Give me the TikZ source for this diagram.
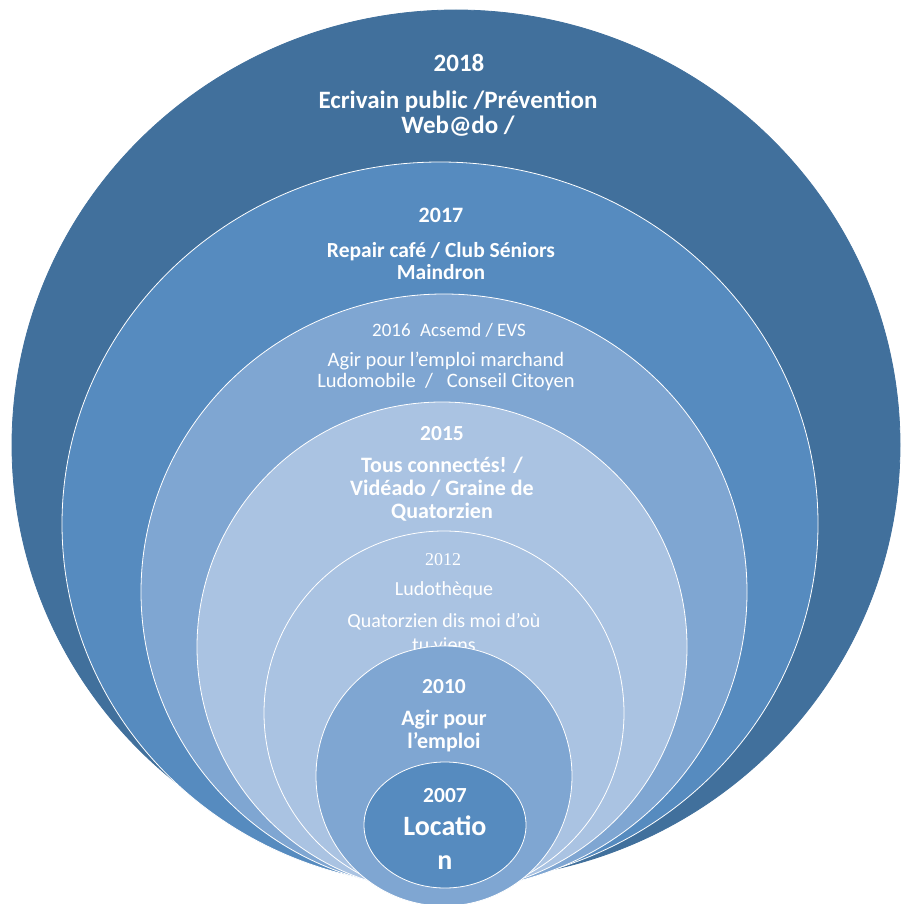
\documentclass[tikz,border=0pt]{standalone}
\usepackage{fontspec}
\setmainfont{Carlito}
\newfontfamily\yearserif{Liberation Serif}
\definecolor{ringA}{HTML}{41709C}
\definecolor{ringB}{HTML}{568BBF}
\definecolor{ringC}{HTML}{7FA6D2}
\definecolor{ringD}{HTML}{AAC3E2}
\tikzset{
  boldtxt/.style 2 args={text=white, align=center, inner sep=0pt, font=\bfseries\fontsize{#1}{#2}\selectfont},
  thintxt/.style 2 args={text=white, align=center, inner sep=0pt, font=\fontsize{#1}{#2}\selectfont}
}
\begin{document}
\begin{tikzpicture}[x=1pt, y=-1pt]
  \useasboundingbox (0,0) rectangle (900,904);
  % outer rings, 2018 down to 2012
  \foreach \cx/\cy/\rx/\ry/\col/\edge in {456/445/444/435/ringA/ringA, 440/524/378/362/ringB/white, 444/592/303/298/ringC/white, 442/647/245/245/ringD/white, 444/713/180/182/ringD/white}
    \filldraw[fill=\col, draw=\edge, line width=0.8pt] (\cx,\cy) ellipse [x radius=\rx pt, y radius=\ry pt];
  \node[boldtxt={25}{25}] (y18) at (459,63) {2018};
  \node[boldtxt={25}{25}] (t18) at (458,114) {Ecrivain public /Prévention\\Web@do /};
  \node[boldtxt={22}{22}] (y17) at (441,215) {2017};
  \node[boldtxt={21.5}{22}] (t17) at (441,261) {Repair café / Club Séniors\\Maindron};
  \node[thintxt={19}{21}] (y16) at (449,330) {2016\enspace Acsemd / EVS};
  \node[thintxt={20.5}{21}] (t16) at (446,371) {Agir pour l'emploi marchand\\Ludomobile~~/~~ Conseil Citoyen};
  \node[boldtxt={21.5}{23}] (y15) at (442,434) {2015};
  \node[boldtxt={22}{23}] (t15) at (442,489) {Tous connectés! /\\Vidéado / Graine de\\Quatorzien};
  \node[thintxt={18}{21}, font=\yearserif\fontsize{18}{21}\selectfont] (y12) at (443,560) {2012};
  \node[thintxt={20}{23}] (l12) at (444,590) {Ludothèque};
  \node[thintxt={20}{24}] (t12) at (444,633) {Quatorzien dis moi d'où\\tu viens};
  % inner rings, 2010 and 2007
  \foreach \cx/\cy/\rx/\ry/\col in {444/776/128/130/ringC, 445/825/81/63/ringB}
    \filldraw[fill=\col, draw=white, line width=0.8pt] (\cx,\cy) ellipse [x radius=\rx pt, y radius=\ry pt];
  \node[boldtxt={21.5}{23}] (y10) at (444,687) {2010};
  \node[boldtxt={22}{23}] (t10) at (444,731) {Agir pour\\l'emploi};
  \node[boldtxt={21.5}{23}] (y07) at (445,796) {2007};
  \node[boldtxt={28}{34}] (t07) at (445,843) {Locatio\\n};
\end{tikzpicture}
\end{document}
